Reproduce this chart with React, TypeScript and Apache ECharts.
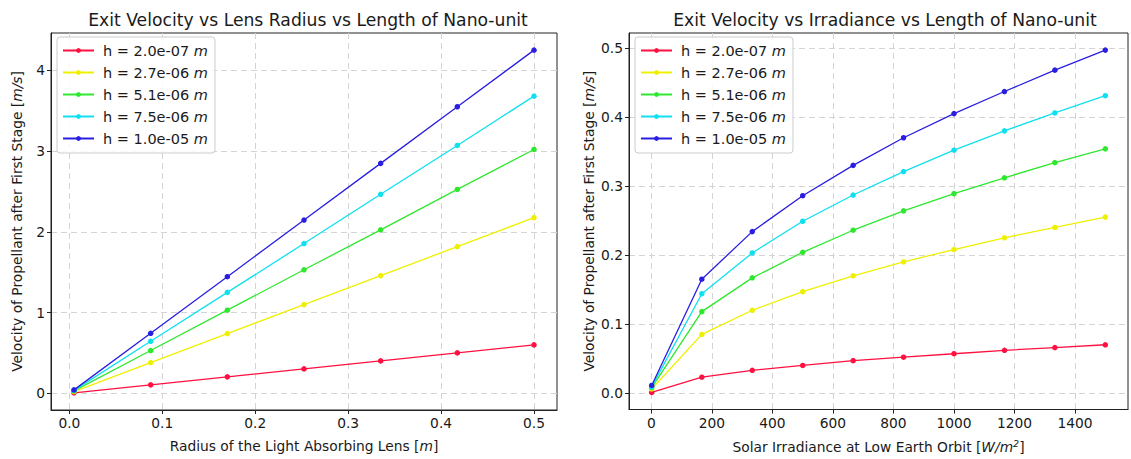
import React, { useEffect, useRef } from "react";
import * as echarts from "echarts";

const seriesNames = [
  "h = 2.0e-07 m",
  "h = 2.7e-06 m",
  "h = 5.1e-06 m",
  "h = 7.5e-06 m",
  "h = 1.0e-05 m",
];
const seriesColors = ["#ff1040", "#eef000", "#2ee82e", "#10e0ee", "#2a1ee0"];

// Left chart: radius of lens [m]
const radiusX = [0.005, 0.0875, 0.17, 0.2525, 0.335, 0.4175, 0.5];
const radiusRed = [0.006, 0.105, 0.204, 0.303, 0.402, 0.501, 0.6];
const radiusYellow = [0.022, 0.381, 0.74, 1.099, 1.458, 1.817, 2.175];
const radiusGreen = [0.03, 0.53, 1.03, 1.53, 2.025, 2.525, 3.02];
const radiusCyan = [0.037, 0.645, 1.25, 1.855, 2.465, 3.07, 3.68];
const radiusBlue = [0.043, 0.744, 1.445, 2.146, 2.848, 3.549, 4.25];

// Right chart: solar irradiance [W/m^2]
const irrX = [1, 166.7, 333.3, 500, 666.7, 833.3, 1000, 1166.7, 1333.3, 1500];
const irrRed = [0.001, 0.023, 0.033, 0.04, 0.047, 0.052, 0.057, 0.062, 0.066, 0.07];
const irrYellow = [0.006, 0.085, 0.12, 0.147, 0.17, 0.19, 0.208, 0.225, 0.24, 0.255];
const irrGreen = [0.008, 0.118, 0.167, 0.204, 0.236, 0.264, 0.289, 0.312, 0.334, 0.354];
const irrCyan = [0.009, 0.144, 0.203, 0.249, 0.287, 0.321, 0.352, 0.38, 0.406, 0.431];
const irrBlue = [0.011, 0.165, 0.234, 0.286, 0.33, 0.37, 0.405, 0.437, 0.468, 0.497];

const leftTicksX = [0, 0.1, 0.2, 0.3, 0.4, 0.5];
const leftTicksY = [0, 1, 2, 3, 4];
const rightTicksX = [0, 200, 400, 600, 800, 1000, 1200, 1400];
const rightTicksY = [0, 0.1, 0.2, 0.3, 0.4, 0.5];

const FONT = "DejaVu Sans";
const TXT = "#1a1a1a";
const AX_FS = 13.8;
const LEG_FS = 14.5;

const leftSets = [radiusRed, radiusYellow, radiusGreen, radiusCyan, radiusBlue];
const rightSets = [irrRed, irrYellow, irrGreen, irrCyan, irrBlue];

function pad(arr: number[], frac = 0.05): [number, number] {
  const lo = Math.min(...arr);
  const hi = Math.max(...arr);
  const m = (hi - lo) * frac;
  return [lo - m, hi + m];
}

export default function App() {
  const ref = useRef<HTMLDivElement>(null);
  useEffect(() => {
    if (!ref.current) return;
    const chart = echarts.init(ref.current, undefined, { renderer: "svg" });

    const [lxMin, lxMax] = pad(radiusX);
    const [lyMin, lyMax] = pad(leftSets.flat());
    const [rxMin, rxMax] = pad(irrX);
    const [ryMin, ryMax] = pad(rightSets.flat());

    const gridStyle = {
      show: true,
      lineStyle: { color: "#d4d4d4", type: [6, 4] as any, width: 1 },
    };
    const richName = {
      n: { fontFamily: FONT, fontSize: AX_FS, color: TXT },
      i: { fontFamily: FONT, fontSize: AX_FS, color: TXT, fontStyle: "italic" },
      s: { fontFamily: FONT, fontSize: 9.5, color: TXT, fontStyle: "italic", verticalAlign: "top", padding: [0, 0, 7, 0] },
    };
    const mkX = (gi: number, min: number, max: number, ticks: number[], fmt: (v: number) => string, name: string) => ({
      type: "value",
      gridIndex: gi,
      min,
      max,
      name,
      nameLocation: "middle",
      nameGap: 29,
      nameTextStyle: { rich: richName },
      axisLine: { show: true, onZero: false, lineStyle: { color: "#222", width: 1 } },
      axisTick: { show: true, length: 4, inside: false, customValues: ticks, lineStyle: { color: "#222" } },
      axisLabel: { customValues: ticks, formatter: fmt, fontFamily: FONT, fontSize: AX_FS, color: TXT, margin: 6 },
      splitLine: gridStyle,
    });
    const mkY = (gi: number, min: number, max: number, ticks: number[], fmt: (v: number) => string, name: string, gap: number) => ({
      type: "value",
      gridIndex: gi,
      min,
      max,
      name,
      nameLocation: "middle",
      nameGap: gap,
      nameRotate: 90,
      nameTextStyle: { rich: richName },
      axisLine: { show: true, onZero: false, lineStyle: { color: "#222", width: 1 } },
      axisTick: { show: true, length: 4, inside: false, customValues: ticks, lineStyle: { color: "#222" } },
      axisLabel: { customValues: ticks, formatter: fmt, fontFamily: FONT, fontSize: AX_FS, color: TXT, margin: 6 },
      splitLine: gridStyle,
    });

    const series: any[] = [];
    const addSeries = (sets: number[][], xs: number[], gi: number) => {
      sets.forEach((vals, k) => {
        series.push({
          type: "line",
          name: seriesNames[k],
          xAxisIndex: gi,
          yAxisIndex: gi,
          data: xs.map((x, i) => [x, vals[i]]),
          symbol: "circle",
          symbolSize: 5.5,
          showAllSymbol: true,
          color: seriesColors[k],
          lineStyle: { width: 1.3, color: seriesColors[k] },
          itemStyle: { color: seriesColors[k] },
          z: 3 + k,
        });
      });
    };
    addSeries(leftSets, radiusX, 0);
    addSeries(rightSets, irrX, 1);

    const legendRich = {
      a: { fontFamily: FONT, fontSize: LEG_FS, color: TXT, padding: [0, 0, 0, 4] },
      i: { fontFamily: FONT, fontSize: LEG_FS, color: TXT, fontStyle: "italic" },
    };
    const legendBase = {
      orient: "vertical",
      top: 37,
      itemWidth: 31,
      itemHeight: 6,
      itemGap: 7,
      padding: [6, 7, 7, 5],
      backgroundColor: "rgba(255,255,255,0.85)",
      borderColor: "#cccccc",
      borderWidth: 1,
      borderRadius: 3,
      data: seriesNames,
      selectedMode: false,
      formatter: (n: string) => `{a|${n.slice(0, -1)}}{i|m}`,
      textStyle: { rich: legendRich, fontFamily: FONT, fontSize: LEG_FS },
      z: 10,
    };

    const titleStyle = { fontFamily: FONT, fontSize: 17.2, fontWeight: "normal", color: TXT };

    chart.setOption({
      animation: false,
      backgroundColor: "#ffffff",
      title: [
        {
          text: "Exit Velocity vs Lens Radius vs Length of Nano-unit",
          left: 303,
          top: 6,
          textAlign: "center",
          textStyle: titleStyle,
        },
        {
          text: "Exit Velocity vs Irradiance vs Length of Nano-unit",
          left: 880,
          top: 6,
          textAlign: "center",
          textStyle: titleStyle,
        },
      ],
      legend: [
        { ...legendBase, left: 57 },
        { ...legendBase, left: 635 },
      ],
      grid: [
        { left: 51, top: 33, width: 506, height: 377, show: true, borderColor: "#222", borderWidth: 1, backgroundColor: "transparent" },
        { left: 629, top: 33, width: 499, height: 377, show: true, borderColor: "#222", borderWidth: 1, backgroundColor: "transparent" },
      ],
      xAxis: [
        mkX(0, lxMin, lxMax, leftTicksX, (v: number) => v.toFixed(1), "{n|Radius of the Light Absorbing Lens [}{i|m}{n|]}"),
        mkX(1, rxMin, rxMax, rightTicksX, (v: number) => String(Math.round(v)), "{n|Solar Irradiance at Low Earth Orbit [}{i|W/m}{s|2}{n|]}"),
      ],
      yAxis: [
        mkY(0, lyMin, lyMax, leftTicksY, (v: number) => String(Math.round(v)), "{n|Velocity of Propellant after First Stage [}{i|m/s}{n|]}", 27),
        mkY(1, ryMin, ryMax, rightTicksY, (v: number) => v.toFixed(1), "{n|Velocity of Propellant after First Stage [}{i|m/s}{n|]}", 33),
      ],
      series,
    });
    return () => chart.dispose();
  }, []);
  return (
    <div
      ref={ref}
      style={{ position: "fixed", left: 0, top: 0, width: 1131, height: 459, background: "#fff" }}
    />
  );
}
